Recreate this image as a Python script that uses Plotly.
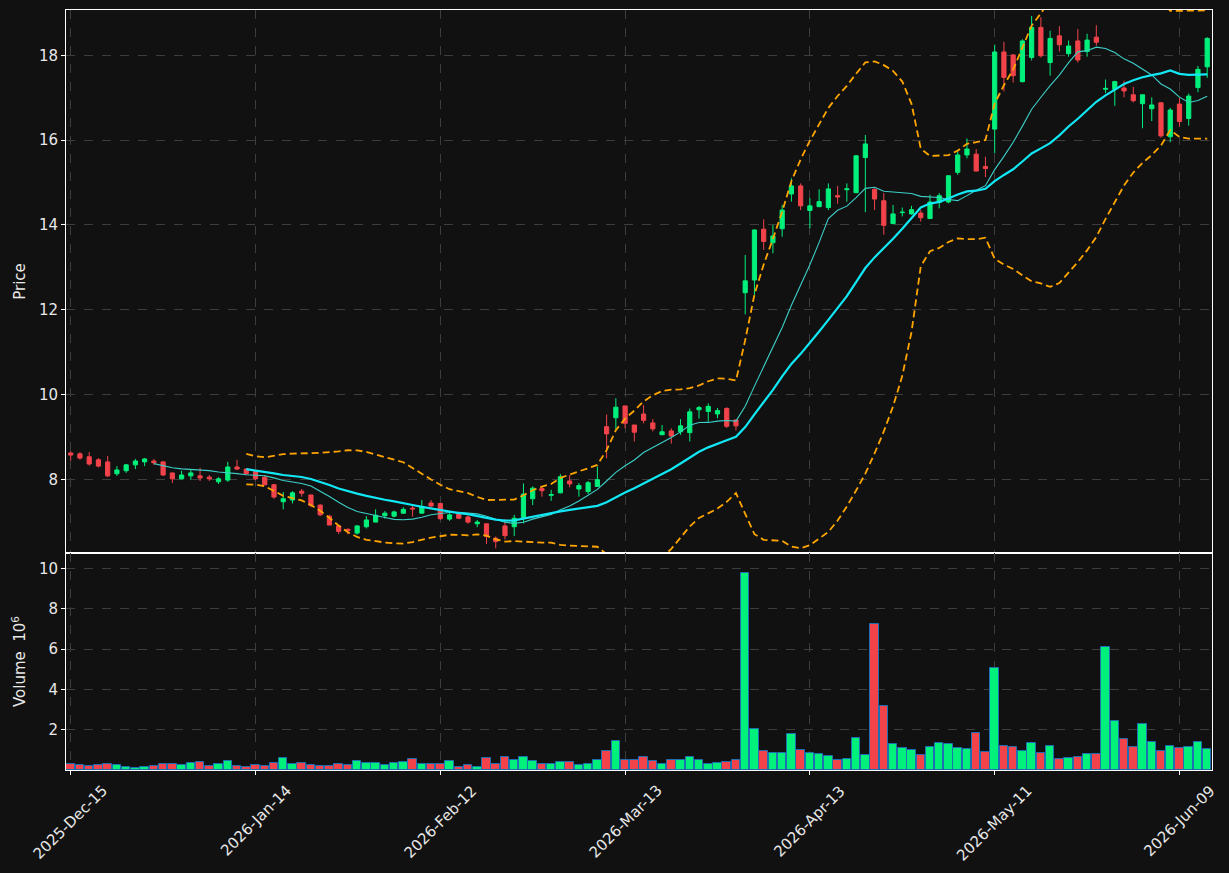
import plotly.graph_objects as go
from plotly.subplots import make_subplots
import pandas as pd

# ---------------- data ----------------
tick_index = [0, 20, 40, 60, 80, 100, 120]
tick_labels = ["2025-Dec-15", "2026-Jan-14", "2026-Feb-12", "2026-Mar-13",
               "2026-Apr-13", "2026-May-11", "2026-Jun-09"]

open_ = [8.62, 8.60, 8.53, 8.46, 8.41, 8.13, 8.20, 8.34, 8.41, 8.43,
         8.41, 8.15, 8.01, 8.08, 8.08, 8.05, 7.94, 7.98, 8.29, 8.24,
         8.18, 8.05, 7.87, 7.47, 7.51, 7.72, 7.63, 7.39, 7.13, 6.90,
         6.82, 6.73, 6.88, 6.99, 7.14, 7.13, 7.20, 7.32, 7.20, 7.44,
         7.43, 7.06, 7.18, 7.11, 6.95, 6.95, 6.61, 6.90, 6.88, 7.10,
         7.54, 7.78, 7.62, 7.68, 7.96, 7.77, 7.71, 7.83, 9.24, 9.45,
         9.73, 9.28, 9.54, 9.33, 9.05, 9.14, 9.12, 9.10, 9.64, 9.60,
         9.54, 9.67, 9.40, 12.40, 12.70, 13.90, 13.58, 13.91, 14.73, 14.92,
         14.34, 14.43, 14.41, 14.69, 14.83, 14.76, 15.59, 14.84, 14.57, 14.03,
         14.29, 14.26, 14.28, 14.15, 14.53, 14.54, 15.24, 15.65, 15.67, 15.38,
         16.26, 18.08, 18.01, 17.38, 17.95, 18.66, 17.83, 18.46, 18.04, 18.34,
         18.09, 18.43, 17.20, 17.20, 17.23, 17.07, 16.86, 16.74, 16.88, 16.08,
         16.85, 16.51, 17.24, 17.73]
high = [8.66, 8.64, 8.64, 8.50, 8.55, 8.31, 8.36, 8.48, 8.50, 8.48,
        8.43, 8.15, 8.20, 8.24, 8.27, 8.10, 8.05, 8.41, 8.46, 8.26,
        8.22, 8.10, 7.89, 7.70, 7.72, 7.77, 7.63, 7.41, 7.16, 6.90,
        6.84, 6.91, 7.13, 7.29, 7.25, 7.26, 7.34, 7.37, 7.51, 7.51,
        7.43, 7.20, 7.18, 7.15, 7.04, 6.95, 6.65, 7.06, 7.16, 7.90,
        7.83, 7.83, 7.75, 8.12, 8.10, 7.91, 7.96, 8.30, 9.53, 9.91,
        9.73, 9.28, 9.75, 9.42, 9.28, 9.20, 9.42, 9.67, 9.73, 9.79,
        9.68, 9.70, 9.40, 13.29, 13.90, 14.13, 14.00, 14.47, 15.10, 14.98,
        14.63, 14.84, 14.98, 14.92, 14.98, 15.65, 16.12, 14.86, 14.75, 14.47,
        14.41, 14.45, 14.35, 14.71, 14.75, 15.17, 15.73, 16.04, 15.79, 15.61,
        18.25, 18.32, 18.03, 18.38, 18.93, 18.90, 18.58, 18.69, 18.35, 18.62,
        18.51, 18.71, 17.43, 17.40, 17.40, 17.26, 17.07, 17.01, 16.90, 16.76,
        17.00, 17.10, 17.75, 18.43]
low = [8.44, 8.46, 8.32, 8.28, 8.05, 8.08, 8.15, 8.24, 8.31, 8.34,
       8.08, 7.91, 8.00, 7.98, 7.96, 7.96, 7.89, 7.94, 8.22, 8.10,
       7.98, 7.86, 7.54, 7.29, 7.43, 7.59, 7.34, 7.13, 6.92, 6.71,
       6.70, 6.69, 6.84, 6.99, 7.07, 7.10, 7.18, 7.12, 7.19, 7.34,
       7.04, 7.02, 7.06, 6.95, 6.87, 6.47, 6.37, 6.58, 6.66, 6.96,
       7.39, 7.59, 7.49, 7.67, 7.81, 7.59, 7.65, 7.83, 8.49, 9.16,
       9.20, 8.89, 9.32, 9.13, 9.05, 8.84, 9.05, 8.89, 9.43, 9.36,
       9.44, 9.21, 9.15, 11.89, 12.35, 13.41, 13.33, 13.72, 14.55, 14.35,
       13.92, 14.43, 14.35, 14.50, 14.55, 14.75, 14.30, 14.35, 13.77, 14.03,
       14.20, 14.24, 14.08, 14.15, 14.39, 14.51, 15.18, 15.57, 15.27, 15.13,
       15.69, 17.15, 17.36, 17.36, 17.88, 17.95, 17.52, 18.09, 17.97, 17.83,
       17.97, 18.23, 17.11, 16.81, 17.01, 16.89, 16.28, 16.45, 16.06, 15.95,
       16.32, 16.34, 17.13, 17.47]
close = [8.57, 8.50, 8.36, 8.31, 8.08, 8.22, 8.34, 8.43, 8.48, 8.39,
         8.10, 8.01, 8.10, 8.15, 8.03, 8.01, 8.01, 8.29, 8.24, 8.13,
         8.01, 7.87, 7.58, 7.54, 7.68, 7.67, 7.38, 7.16, 6.92, 6.77,
         6.79, 6.90, 7.04, 7.15, 7.20, 7.23, 7.29, 7.30, 7.36, 7.37,
         7.07, 7.16, 7.08, 6.99, 6.99, 6.65, 6.53, 6.67, 7.08, 7.65,
         7.79, 7.73, 7.64, 8.06, 7.89, 7.85, 7.92, 7.99, 9.07, 9.70,
         9.32, 9.11, 9.39, 9.19, 9.12, 9.02, 9.26, 9.59, 9.69, 9.72,
         9.62, 9.25, 9.26, 12.68, 13.88, 13.61, 13.74, 14.35, 14.92, 14.45,
         14.45, 14.55, 14.85, 14.66, 14.85, 15.63, 15.91, 14.61, 13.99, 14.26,
         14.30, 14.36, 14.17, 14.54, 14.69, 15.16, 15.65, 15.79, 15.27, 15.33,
         18.08, 17.48, 17.52, 18.34, 18.66, 17.99, 18.40, 18.25, 18.22, 17.89,
         18.36, 18.31, 17.22, 17.38, 17.16, 16.93, 17.07, 16.83, 16.10, 16.71,
         16.44, 17.04, 17.67, 18.40]
volume_m = [0.30, 0.25, 0.21, 0.25, 0.30, 0.25, 0.15, 0.10, 0.15, 0.20,
            0.30, 0.30, 0.25, 0.35, 0.40, 0.20, 0.30, 0.45, 0.20, 0.15,
            0.25, 0.20, 0.35, 0.60, 0.30, 0.35, 0.25, 0.20, 0.20, 0.30,
            0.25, 0.45, 0.35, 0.35, 0.25, 0.35, 0.40, 0.55, 0.30, 0.30,
            0.30, 0.45, 0.15, 0.25, 0.15, 0.60, 0.30, 0.65, 0.50, 0.65,
            0.45, 0.30, 0.30, 0.40, 0.40, 0.25, 0.30, 0.50, 0.95, 1.45,
            0.50, 0.50, 0.65, 0.45, 0.30, 0.50, 0.50, 0.65, 0.50, 0.30,
            0.35, 0.40, 0.50, 9.79, 2.05, 0.96, 0.86, 0.86, 1.80, 1.01,
            0.86, 0.81, 0.71, 0.50, 0.55, 1.60, 0.76, 7.26, 3.19, 1.30,
            1.11, 1.01, 0.76, 1.16, 1.36, 1.30, 1.11, 1.06, 1.85, 0.91,
            5.08, 1.21, 1.16, 0.96, 1.36, 0.86, 1.21, 0.55, 0.60, 0.65,
            0.81, 0.81, 6.12, 2.45, 1.55, 1.16, 2.30, 1.41, 0.96, 1.21,
            1.11, 1.16, 1.41, 1.06]

# ---------------- styling ----------------
BG = "#111111"
UP = "#00f07c"
DOWN = "#f2434b"
GRID = "#3d3d3d"
TXT = "#e8e8e8"
FONT = "DejaVu Sans"
FS = 15

n = len(close)
x = list(range(n))
s = pd.Series(close)
ma_short = s.rolling(10).mean()
ma_long = s.rolling(20).mean()
sd = s.rolling(20).std()
bb_up = ma_long + 2 * sd
bb_lo = ma_long - 2 * sd

vol_colors = [UP if c >= o else DOWN for o, c in zip(open_, close)]

fig = make_subplots(rows=2, cols=1, shared_xaxes=True, vertical_spacing=0,
                    row_heights=[0.7145, 0.2855])

fig.add_trace(go.Candlestick(
    x=x, open=open_, high=high, low=low, close=close,
    increasing=dict(line=dict(color=UP, width=1), fillcolor=UP),
    decreasing=dict(line=dict(color=DOWN, width=1), fillcolor=DOWN),
    whiskerwidth=0, showlegend=False, hoverinfo="skip"), row=1, col=1)

fig.add_trace(go.Scatter(x=x, y=ma_short, mode="lines",
                         line=dict(color="#3ccfc8", width=1.1),
                         showlegend=False, hoverinfo="skip"), row=1, col=1)
fig.add_trace(go.Scatter(x=x, y=ma_long, mode="lines",
                         line=dict(color="#12e8f5", width=2.2),
                         showlegend=False, hoverinfo="skip"), row=1, col=1)
for band in (bb_up, bb_lo):
    fig.add_trace(go.Scatter(x=x, y=band, mode="lines",
                             line=dict(color="#ffa500", width=1.8, dash="7px,4px"),
                             showlegend=False, hoverinfo="skip"), row=1, col=1)

fig.add_trace(go.Bar(x=x, y=volume_m, width=0.92,
                     marker=dict(color=vol_colors, line=dict(color="#1f6fb4", width=1)),
                     showlegend=False, hoverinfo="skip"), row=2, col=1)

axis_common = dict(showline=True, linecolor="white", linewidth=1, mirror=True,
                   showgrid=True, gridcolor=GRID, gridwidth=1, griddash="dash",
                   zeroline=False, tickfont=dict(family=FONT, size=FS, color=TXT),
                   ticks="outside", ticklen=4, tickcolor="white", automargin=False)

fig.update_xaxes(**axis_common)
fig.update_yaxes(**axis_common)

fig.update_xaxes(range=[-0.51, 123.52], tickvals=tick_index, ticktext=tick_labels,
                 rangeslider_visible=False)
fig.update_xaxes(showticklabels=False, ticks="", row=1, col=1)
fig.update_xaxes(showticklabels=False, row=2, col=1)

fig.update_yaxes(range=[6.26, 19.07], tickvals=[8, 10, 12, 14, 16, 18],
                 title=dict(text="Price", font=dict(family=FONT, size=FS, color=TXT),
                            standoff=9), row=1, col=1)
fig.update_yaxes(range=[0, 10.78], tickvals=[2, 4, 6, 8, 10],
                 title=dict(text="Volume  10<sup>6</sup>",
                            font=dict(family=FONT, size=FS, color=TXT), standoff=9),
                 row=2, col=1)

# rotated date labels centred under their ticks (matplotlib-like)
for ti, tl in zip(tick_index, tick_labels):
    fig.add_annotation(x=ti, xref="x2", y=0, yref="y2 domain",
                       text=tl, textangle=-45, showarrow=False,
                       xanchor="center", yanchor="top", yshift=-9,
                       font=dict(family=FONT, size=FS, color=TXT))

fig.update_layout(width=1229, height=873,
                  margin=dict(l=66, r=17, t=10, b=103),
                  paper_bgcolor=BG, plot_bgcolor=BG,
                  font=dict(family=FONT, size=FS, color=TXT),
                  boxgap=0.35, bargap=0, showlegend=False,
                  xaxis_rangeslider_visible=False)

fig.write_html("out.html")
